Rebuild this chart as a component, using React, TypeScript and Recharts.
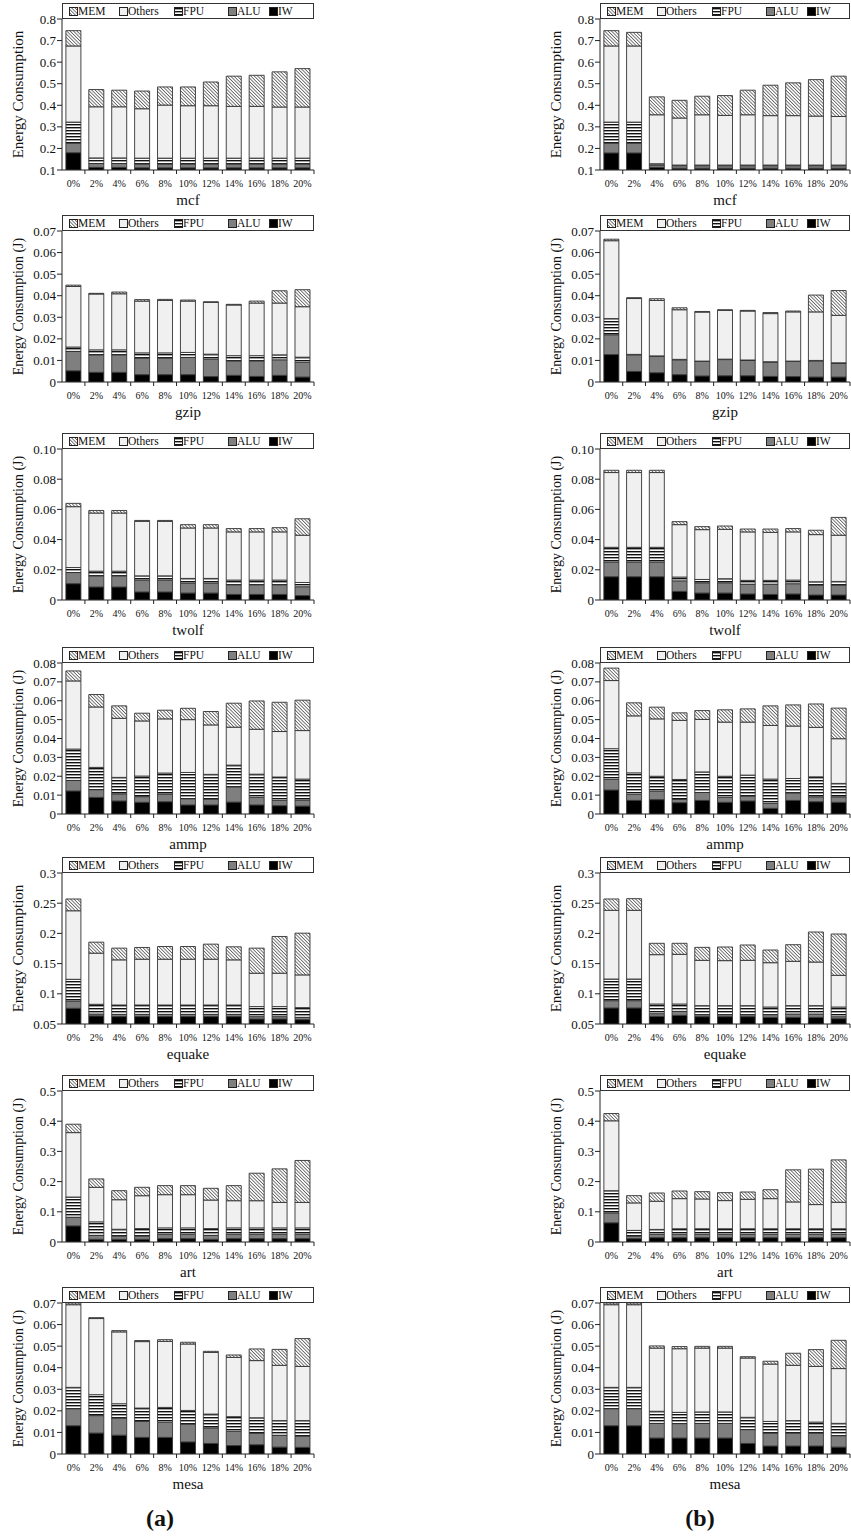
import { BarChart, Bar, XAxis, YAxis } from 'recharts';

const CATEGORIES = ['0%', '2%', '4%', '6%', '8%', '10%', '12%', '14%', '16%', '18%', '20%'];
const SERIES = ['IW', 'ALU', 'FPU', 'Others', 'MEM'];
const LEGEND_ORDER = ['MEM', 'Others', 'FPU', 'ALU', 'IW'];

const TICKS_MCF = [0.1, 0.2, 0.3, 0.4, 0.5, 0.6, 0.7, 0.8];
const TICKS_GZIP = [0, 0.01, 0.02, 0.03, 0.04, 0.05, 0.06, 0.07];
const TICKS_TWOLF = [0, 0.02, 0.04, 0.06, 0.08, 0.1];
const TICKS_AMMP = [0, 0.01, 0.02, 0.03, 0.04, 0.05, 0.06, 0.07, 0.08];
const TICKS_EQUAKE = [0.05, 0.1, 0.15, 0.2, 0.25, 0.3];
const TICKS_ART = [0, 0.1, 0.2, 0.3, 0.4, 0.5];
const TICKS_MESA = [0, 0.01, 0.02, 0.03, 0.04, 0.05, 0.06, 0.07];

// (a)
const MCF_A_IW = [0.18, 0.112, 0.112, 0.11, 0.11, 0.11, 0.11, 0.11, 0.11, 0.11, 0.11];
const MCF_A_ALU = [0.044, 0.018, 0.018, 0.018, 0.018, 0.018, 0.018, 0.018, 0.018, 0.018, 0.018];
const MCF_A_FPU = [0.098, 0.026, 0.026, 0.027, 0.027, 0.027, 0.027, 0.027, 0.027, 0.027, 0.027];
const MCF_A_OTH = [0.353, 0.237, 0.237, 0.229, 0.246, 0.243, 0.243, 0.24, 0.24, 0.237, 0.237];
const MCF_A_MEM = [0.071, 0.08, 0.077, 0.082, 0.084, 0.087, 0.11, 0.14, 0.144, 0.163, 0.178];

const GZIP_A_IW = [0.0052, 0.0045, 0.0045, 0.0034, 0.0034, 0.0034, 0.0025, 0.0031, 0.0026, 0.0031, 0.0023];
const GZIP_A_ALU = [0.009, 0.0081, 0.0081, 0.0077, 0.0077, 0.008, 0.0081, 0.0067, 0.0072, 0.0072, 0.0068];
const GZIP_A_FPU = [0.002, 0.0023, 0.0023, 0.0024, 0.0024, 0.0023, 0.0023, 0.0024, 0.0024, 0.0023, 0.0024];
const GZIP_A_OTH = [0.0281, 0.0259, 0.026, 0.024, 0.0243, 0.0238, 0.024, 0.0235, 0.0244, 0.024, 0.0234];
const GZIP_A_MEM = [0.0006, 0.0003, 0.0008, 0.0007, 0.0005, 0.0005, 0.0003, 0.0003, 0.0009, 0.0057, 0.0079];

const TWOLF_A_IW = [0.0108, 0.0086, 0.0086, 0.0053, 0.0053, 0.0046, 0.0046, 0.0037, 0.0037, 0.0037, 0.0029];
const TWOLF_A_ALU = [0.0074, 0.0074, 0.0074, 0.0079, 0.0079, 0.0066, 0.0066, 0.0064, 0.0064, 0.0064, 0.0059];
const TWOLF_A_FPU = [0.0033, 0.0031, 0.0031, 0.0028, 0.0028, 0.0031, 0.0031, 0.0031, 0.0031, 0.0031, 0.0028];
const TWOLF_A_OTH = [0.0403, 0.0385, 0.0385, 0.0361, 0.0361, 0.0334, 0.0334, 0.0319, 0.0319, 0.0319, 0.0313];
const TWOLF_A_MEM = [0.0022, 0.0017, 0.0017, 0.0006, 0.0006, 0.0022, 0.0022, 0.0022, 0.0022, 0.0028, 0.0109];

const AMMP_A_IW = [0.0122, 0.0088, 0.0069, 0.0062, 0.0065, 0.0048, 0.0048, 0.0063, 0.0048, 0.0044, 0.0042];
const AMMP_A_ALU = [0.0056, 0.0041, 0.0038, 0.003, 0.0041, 0.0033, 0.0031, 0.0081, 0.004, 0.0028, 0.0032];
const AMMP_A_FPU = [0.0166, 0.0118, 0.0087, 0.0109, 0.0111, 0.0139, 0.0131, 0.0115, 0.0123, 0.0124, 0.0111];
const AMMP_A_OTH = [0.0361, 0.032, 0.0313, 0.0292, 0.0287, 0.028, 0.0262, 0.0201, 0.0238, 0.0241, 0.0257];
const AMMP_A_MEM = [0.0053, 0.0066, 0.0066, 0.0041, 0.0046, 0.006, 0.0071, 0.0127, 0.015, 0.0155, 0.0161];

const EQUAKE_A_IW = [0.076, 0.0633, 0.0622, 0.0622, 0.0622, 0.0622, 0.0622, 0.0622, 0.0583, 0.0583, 0.0572];
const EQUAKE_A_ALU = [0.012, 0.0033, 0.0038, 0.0038, 0.0038, 0.0038, 0.0038, 0.0038, 0.0039, 0.0039, 0.0039];
const EQUAKE_A_FPU = [0.036, 0.016, 0.0155, 0.0155, 0.0155, 0.0155, 0.0155, 0.0155, 0.0166, 0.0166, 0.016];
const EQUAKE_A_OTH = [0.1135, 0.0847, 0.0747, 0.0758, 0.0758, 0.0758, 0.0758, 0.0747, 0.0553, 0.0553, 0.0542];
const EQUAKE_A_MEM = [0.0195, 0.0182, 0.0194, 0.0194, 0.021, 0.021, 0.0249, 0.0216, 0.0415, 0.0608, 0.0691];

const ART_A_IW = [0.0533, 0.0089, 0.0089, 0.0089, 0.0111, 0.0111, 0.0089, 0.0111, 0.0111, 0.0111, 0.0111];
const ART_A_ALU = [0.0289, 0.0133, 0.0111, 0.0111, 0.0145, 0.0145, 0.0133, 0.0145, 0.0145, 0.0145, 0.0145];
const ART_A_FPU = [0.0667, 0.0445, 0.0222, 0.0244, 0.0211, 0.0211, 0.0222, 0.0211, 0.0211, 0.0211, 0.0211];
const ART_A_OTH = [0.2133, 0.1144, 0.0978, 0.1089, 0.11, 0.11, 0.0945, 0.09, 0.09, 0.0844, 0.0844];
const ART_A_MEM = [0.0278, 0.0278, 0.03, 0.0278, 0.03, 0.03, 0.0389, 0.05, 0.0911, 0.1111, 0.1389];

const MESA_A_IW = [0.0131, 0.0097, 0.0087, 0.0077, 0.0077, 0.0056, 0.0049, 0.0039, 0.0043, 0.0032, 0.0031];
const MESA_A_ALU = [0.0079, 0.0081, 0.008, 0.0074, 0.007, 0.0083, 0.0072, 0.0066, 0.0053, 0.0055, 0.0052];
const MESA_A_FPU = [0.0099, 0.0097, 0.0066, 0.0062, 0.0069, 0.0063, 0.0064, 0.0068, 0.0072, 0.0068, 0.0072];
const MESA_A_OTH = [0.0383, 0.0353, 0.0333, 0.0308, 0.0306, 0.0308, 0.0286, 0.0275, 0.0265, 0.0256, 0.0251];
const MESA_A_MEM = [0.0008, 0.0004, 0.0006, 0.0005, 0.0008, 0.0008, 0.0005, 0.0011, 0.0054, 0.0074, 0.0129];

// (b)
const MCF_B_IW = [0.179, 0.179, 0.112, 0.108, 0.108, 0.108, 0.108, 0.108, 0.108, 0.108, 0.108];
const MCF_B_ALU = [0.045, 0.045, 0.011, 0.012, 0.012, 0.012, 0.012, 0.012, 0.012, 0.012, 0.012];
const MCF_B_FPU = [0.098, 0.098, 0.006, 0.003, 0.003, 0.003, 0.003, 0.003, 0.003, 0.003, 0.003];
const MCF_B_OTH = [0.353, 0.353, 0.227, 0.218, 0.233, 0.23, 0.233, 0.229, 0.229, 0.227, 0.225];
const MCF_B_MEM = [0.071, 0.063, 0.083, 0.082, 0.086, 0.092, 0.114, 0.141, 0.152, 0.169, 0.187];

const GZIP_B_IW = [0.0127, 0.0049, 0.0043, 0.0034, 0.0028, 0.0029, 0.0029, 0.0026, 0.0025, 0.0023, 0.0023];
const GZIP_B_ALU = [0.0092, 0.0077, 0.0076, 0.0069, 0.0067, 0.0075, 0.0071, 0.0066, 0.007, 0.0075, 0.0064];
const GZIP_B_FPU = [0.0075, 0.0002, 0.0002, 0.0002, 0.0002, 0.0002, 0.0002, 0.0002, 0.0002, 0.0002, 0.0002];
const GZIP_B_OTH = [0.0361, 0.0259, 0.0257, 0.023, 0.0227, 0.0226, 0.0227, 0.0223, 0.0228, 0.0225, 0.022];
const GZIP_B_MEM = [0.0007, 0.0004, 0.0008, 0.0009, 0.0003, 0.0003, 0.0003, 0.0005, 0.0004, 0.0078, 0.0115];

const TWOLF_B_IW = [0.0154, 0.0154, 0.0154, 0.0057, 0.0046, 0.0046, 0.004, 0.0037, 0.004, 0.0033, 0.0033];
const TWOLF_B_ALU = [0.0097, 0.0097, 0.0097, 0.007, 0.0068, 0.0068, 0.0065, 0.0068, 0.0068, 0.0066, 0.0066];
const TWOLF_B_FPU = [0.0098, 0.0098, 0.0098, 0.0025, 0.0022, 0.0027, 0.0025, 0.0025, 0.0024, 0.0022, 0.0024];
const TWOLF_B_OTH = [0.0495, 0.0495, 0.0495, 0.0347, 0.033, 0.0327, 0.0321, 0.0318, 0.0319, 0.0312, 0.0306];
const TWOLF_B_MEM = [0.0015, 0.0015, 0.0015, 0.002, 0.002, 0.0022, 0.0019, 0.0022, 0.0022, 0.0029, 0.0118];

const AMMP_B_IW = [0.0127, 0.0072, 0.0076, 0.006, 0.0072, 0.0062, 0.0069, 0.003, 0.0072, 0.0065, 0.0062];
const AMMP_B_ALU = [0.0056, 0.0032, 0.0045, 0.0017, 0.0042, 0.0026, 0.0026, 0.0026, 0.004, 0.0026, 0.0029];
const AMMP_B_FPU = [0.0163, 0.0114, 0.0079, 0.0106, 0.0109, 0.0112, 0.0111, 0.0129, 0.0076, 0.0106, 0.0071];
const AMMP_B_OTH = [0.0361, 0.0302, 0.0304, 0.0313, 0.0278, 0.0287, 0.0281, 0.0284, 0.0278, 0.0262, 0.0237];
const AMMP_B_MEM = [0.0066, 0.0069, 0.0062, 0.004, 0.0047, 0.0065, 0.007, 0.0104, 0.0112, 0.0124, 0.0162];

const EQUAKE_B_IW = [0.0765, 0.0765, 0.0627, 0.0643, 0.0621, 0.0621, 0.0621, 0.061, 0.061, 0.061, 0.0588];
const EQUAKE_B_ALU = [0.0121, 0.0121, 0.0044, 0.0067, 0.0034, 0.0034, 0.0034, 0.0045, 0.0056, 0.0056, 0.0033];
const EQUAKE_B_FPU = [0.0359, 0.0359, 0.016, 0.0121, 0.0149, 0.0149, 0.0149, 0.0126, 0.0138, 0.0138, 0.016];
const EQUAKE_B_OTH = [0.1137, 0.1137, 0.0817, 0.0822, 0.075, 0.0745, 0.075, 0.0734, 0.0734, 0.0722, 0.0525];
const EQUAKE_B_MEM = [0.0188, 0.0193, 0.0188, 0.0183, 0.0215, 0.0226, 0.0254, 0.021, 0.0275, 0.0497, 0.0684];

const ART_B_IW = [0.0636, 0.011, 0.0143, 0.0143, 0.0143, 0.0143, 0.0143, 0.0143, 0.0143, 0.0143, 0.0143];
const ART_B_ALU = [0.0329, 0.0087, 0.0109, 0.0109, 0.0109, 0.0109, 0.0109, 0.0109, 0.0109, 0.0109, 0.0109];
const ART_B_FPU = [0.0735, 0.0187, 0.0165, 0.0187, 0.0187, 0.0187, 0.0187, 0.0187, 0.0187, 0.0187, 0.0187];
const ART_B_OTH = [0.2313, 0.091, 0.0932, 0.0997, 0.0986, 0.0932, 0.0975, 0.0997, 0.0888, 0.08, 0.0877];
const ART_B_MEM = [0.0241, 0.0241, 0.0274, 0.0253, 0.0242, 0.0263, 0.0242, 0.0296, 0.1063, 0.1173, 0.1403];

const MESA_B_IW = [0.0131, 0.0131, 0.0074, 0.0074, 0.0074, 0.0074, 0.0049, 0.0037, 0.0037, 0.0037, 0.0032];
const MESA_B_ALU = [0.0079, 0.0079, 0.0068, 0.0067, 0.0068, 0.0068, 0.0064, 0.006, 0.006, 0.006, 0.0053];
const MESA_B_FPU = [0.0099, 0.0099, 0.0056, 0.0052, 0.0053, 0.0053, 0.0057, 0.0054, 0.0058, 0.0051, 0.0057];
const MESA_B_OTH = [0.0383, 0.0383, 0.0293, 0.0295, 0.0296, 0.0296, 0.0275, 0.0266, 0.0256, 0.0258, 0.0254];
const MESA_B_MEM = [0.0008, 0.0008, 0.001, 0.001, 0.0008, 0.0008, 0.0006, 0.0013, 0.0056, 0.0078, 0.0131];

const FILLS: Record<string, string> = {
  IW: '#000000',
  ALU: '#7f7f7f',
  FPU: 'url(#fpuStripe)',
  Others: '#f0f0f0',
  MEM: 'url(#memHatch)',
};

const FONT = '"Liberation Serif", "Times New Roman", serif';
const PLOT_H = 151;
const TOP_M = 19;
const AXIS_W = 62;
const XAXIS_H = 45;

const plain = (v: number) => String(v);
const twoDec = (v: number) => (v === 0 ? '0' : v.toFixed(2));

function buildRows(iw: number[], alu: number[], fpu: number[], oth: number[], mem: number[]) {
  return CATEGORIES.map((cat, i) => ({ cat, IW: iw[i], ALU: alu[i], FPU: fpu[i], Others: oth[i], MEM: mem[i] }));
}

const PANELS = [
  { title: 'mcf', yl: 'Energy Consumption', fs: 15, domain: [0.1, 0.8], ticks: TICKS_MCF, fmt: plain,
    a: buildRows(MCF_A_IW, MCF_A_ALU, MCF_A_FPU, MCF_A_OTH, MCF_A_MEM),
    b: buildRows(MCF_B_IW, MCF_B_ALU, MCF_B_FPU, MCF_B_OTH, MCF_B_MEM), top: 19 },
  { title: 'gzip', yl: 'Energy Consumption (J)', fs: 14, domain: [0, 0.07], ticks: TICKS_GZIP, fmt: plain,
    a: buildRows(GZIP_A_IW, GZIP_A_ALU, GZIP_A_FPU, GZIP_A_OTH, GZIP_A_MEM),
    b: buildRows(GZIP_B_IW, GZIP_B_ALU, GZIP_B_FPU, GZIP_B_OTH, GZIP_B_MEM), top: 231 },
  { title: 'twolf', yl: 'Energy Consumption (J)', fs: 14, domain: [0, 0.1], ticks: TICKS_TWOLF, fmt: twoDec,
    a: buildRows(TWOLF_A_IW, TWOLF_A_ALU, TWOLF_A_FPU, TWOLF_A_OTH, TWOLF_A_MEM),
    b: buildRows(TWOLF_B_IW, TWOLF_B_ALU, TWOLF_B_FPU, TWOLF_B_OTH, TWOLF_B_MEM), top: 449 },
  { title: 'ammp', yl: 'Energy Consumption (J)', fs: 14, domain: [0, 0.08], ticks: TICKS_AMMP, fmt: plain,
    a: buildRows(AMMP_A_IW, AMMP_A_ALU, AMMP_A_FPU, AMMP_A_OTH, AMMP_A_MEM),
    b: buildRows(AMMP_B_IW, AMMP_B_ALU, AMMP_B_FPU, AMMP_B_OTH, AMMP_B_MEM), top: 663 },
  { title: 'equake', yl: 'Energy Consumption', fs: 15, domain: [0.05, 0.3], ticks: TICKS_EQUAKE, fmt: plain,
    a: buildRows(EQUAKE_A_IW, EQUAKE_A_ALU, EQUAKE_A_FPU, EQUAKE_A_OTH, EQUAKE_A_MEM),
    b: buildRows(EQUAKE_B_IW, EQUAKE_B_ALU, EQUAKE_B_FPU, EQUAKE_B_OTH, EQUAKE_B_MEM), top: 873 },
  { title: 'art', yl: 'Energy Consumption (J)', fs: 14, domain: [0, 0.5], ticks: TICKS_ART, fmt: plain,
    a: buildRows(ART_A_IW, ART_A_ALU, ART_A_FPU, ART_A_OTH, ART_A_MEM),
    b: buildRows(ART_B_IW, ART_B_ALU, ART_B_FPU, ART_B_OTH, ART_B_MEM), top: 1091 },
  { title: 'mesa', yl: 'Energy Consumption (J)', fs: 14, domain: [0, 0.07], ticks: TICKS_MESA, fmt: plain,
    a: buildRows(MESA_A_IW, MESA_A_ALU, MESA_A_FPU, MESA_A_OTH, MESA_A_MEM),
    b: buildRows(MESA_B_IW, MESA_B_ALU, MESA_B_FPU, MESA_B_OTH, MESA_B_MEM), top: 1303 },
];

const LEGEND_X = [6, 56, 111, 165, 206];

function Swatch({ name }: { name: string }) {
  return (
    <svg width={9} height={9} style={{ position: 'absolute', left: 0, top: 3 }}>
      <rect x={0.5} y={0.5} width={8} height={8} fill={FILLS[name]} stroke="#222" strokeWidth={1} />
    </svg>
  );
}

function LegendBox({ width }: { width: number }) {
  return (
    <div style={{ position: 'absolute', left: AXIS_W, top: TOP_M - 16, width, height: 16, boxSizing: 'border-box',
      border: '1px solid #333', background: '#fff' }}>
      {LEGEND_ORDER.map((name, i) => (
        <div key={name} style={{ position: 'absolute', left: LEGEND_X[i], top: 0, height: 14 }}>
          <Swatch name={name} />
          <span style={{ position: 'absolute', left: 9, top: 0, fontSize: 11.5, lineHeight: '14px', whiteSpace: 'nowrap', color: '#111' }}>{name}</span>
        </div>
      ))}
    </div>
  );
}

function Panel({ left, top, plotW, cfg, data }: any) {
  const band = plotW / CATEGORIES.length;
  const renderXTick = (p: any) => (
    <g>
      <line x1={p.x + band / 2} x2={p.x + band / 2} y1={p.y} y2={p.y + 4} stroke="#222" />
      <text x={p.x} y={p.y + 17} textAnchor="middle" fontSize={10} fill="#111">{p.payload.value}</text>
    </g>
  );
  const renderYLabel = () => {
    const cx = 18;
    const cy = TOP_M + PLOT_H / 2;
    return (
      <text x={cx} y={cy} transform={`rotate(-90 ${cx} ${cy})`} textAnchor="middle" dominantBaseline="central"
        fontSize={cfg.fs} fill="#111">{cfg.yl}</text>
    );
  };
  return (
    <div style={{ position: 'absolute', left: left - AXIS_W, top: top - TOP_M }}>
      <BarChart width={AXIS_W + plotW + 2} height={TOP_M + PLOT_H + XAXIS_H} data={data}
        margin={{ top: TOP_M, right: 2, bottom: 0, left: 0 }} barCategoryGap="17%">
        <XAxis dataKey="cat" height={XAXIS_H} interval={0} tickSize={0} tickMargin={0} tickLine={false}
          axisLine={{ stroke: '#222' }} tick={renderXTick}
          label={{ value: cfg.title, position: 'insideBottom', offset: 10, fontSize: 15, fill: '#111' }} />
        <YAxis type="number" width={AXIS_W} domain={cfg.domain} ticks={cfg.ticks} interval={0} allowDataOverflow
          tickFormatter={cfg.fmt} tickSize={5} tickMargin={1} tick={{ fontSize: 13, fill: '#111' }}
          axisLine={{ stroke: '#222' }} tickLine={{ stroke: '#222' }} label={renderYLabel} />
        {SERIES.map((s) => (
          <Bar key={s} dataKey={s} stackId="e" fill={FILLS[s]} stroke="#333" strokeWidth={0.9} isAnimationActive={false} />
        ))}
      </BarChart>
      <LegendBox width={plotW} />
    </div>
  );
}

export default function App() {
  return (
    <div style={{ position: 'absolute', left: 0, top: 0, width: 851, height: 1536, background: '#fff', fontFamily: FONT, color: '#111', overflow: 'hidden' }}>
      <svg width={0} height={0} style={{ position: 'absolute' }}>
        <defs>
          <pattern id="fpuStripe" patternUnits="userSpaceOnUse" width={4} height={3}>
            <rect width={4} height={3} fill="#fff" />
            <rect y={1} width={4} height={1.4} fill="#111" />
          </pattern>
          <pattern id="memHatch" patternUnits="userSpaceOnUse" width={2.4} height={2.4} patternTransform="rotate(-45)">
            <rect width={2.4} height={2.4} fill="#fafafa" />
            <line x1={1.2} y1={0} x2={1.2} y2={2.4} stroke="#555" strokeWidth={0.75} />
          </pattern>
        </defs>
      </svg>
      {PANELS.map((cfg) => (
        <div key={cfg.title}>
          <Panel left={62} top={cfg.top} plotW={252} cfg={cfg} data={cfg.a} />
          <Panel left={600} top={cfg.top} plotW={250} cfg={cfg} data={cfg.b} />
        </div>
      ))}
      <div style={{ position: 'absolute', left: 120, top: 1504, width: 80, textAlign: 'center', fontSize: 24, fontWeight: 'bold', lineHeight: '28px' }}>(a)</div>
      <div style={{ position: 'absolute', left: 660, top: 1504, width: 80, textAlign: 'center', fontSize: 24, fontWeight: 'bold', lineHeight: '28px' }}>(b)</div>
    </div>
  );
}
